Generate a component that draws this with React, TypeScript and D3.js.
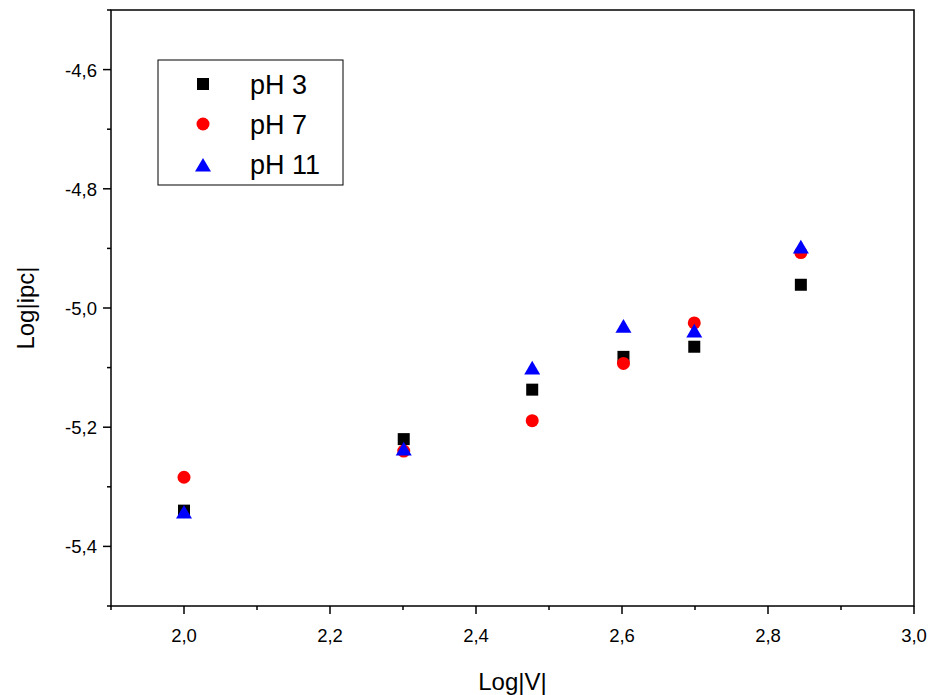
import React from 'react';
import * as d3 from 'd3';

const xs = [2.0, 2.301, 2.477, 2.602, 2.699, 2.845];
const ph3 = [-5.34, -5.22, -5.137, -5.082, -5.065, -4.961];
const ph7 = [-5.284, -5.24, -5.189, -5.093, -5.025, -4.907];
const ph11 = [-5.344, -5.238, -5.102, -5.032, -5.04, -4.899];
const xTicks = [2.0, 2.2, 2.4, 2.6, 2.8, 3.0];
const yTicks = [-5.4, -5.2, -5.0, -4.8, -4.6];

const W = 934, H = 695;
const L = 111, R = 914, T = 10, B = 606;

const App: React.FC = () => {
  const x = d3.scaleLinear().domain([1.9, 3.0]).range([L, R]);
  const y = d3.scaleLinear().domain([-5.5, -4.5]).range([B, T]);
  const fmt = (v: number) => v.toFixed(1).replace('.', ',');
  const xMinor = d3.range(19, 31).map(v => v / 10);
  const yMinor = d3.range(-55, -44).map(v => v / 10);
  const tri = (cx: number, cy: number, s = 8) =>
    `M${cx},${cy - s} L${cx + s},${cy + s * 0.7} L${cx - s},${cy + s * 0.7} Z`;
  const font = 'Arial, "Liberation Sans", sans-serif';
  return (
    <svg width={W} height={H} style={{ position: 'absolute', left: 0, top: 0, background: '#fff' }} fontFamily={font}>
      <rect x={L} y={T} width={R - L} height={B - T} fill="none" stroke="#000" strokeWidth={1.5} />
      {xMinor.map(v => (
        <line key={'xm' + v} x1={x(v)} x2={x(v)} y1={B} y2={B + (xTicks.some(t => Math.abs(t - v) < 1e-6) ? 8 : 4)} stroke="#000" strokeWidth={1.5} />
      ))}
      {xTicks.map(v => (
        <text key={'xt' + v} x={x(v)} y={B + 36} textAnchor="middle" fontSize={18.5}>{fmt(v)}</text>
      ))}
      {yMinor.map(v => (
        <line key={'ym' + v} x1={L} x2={L - (yTicks.some(t => Math.abs(t - v) < 1e-6) ? 8 : 4)} y1={y(v)} y2={y(v)} stroke="#000" strokeWidth={1.5} />
      ))}
      {yTicks.map(v => (
        <text key={'yt' + v} x={L - 14} y={y(v) + 7} textAnchor="end" fontSize={18.5}>{fmt(v)}</text>
      ))}
      <text x={(L + R) / 2} y={690} textAnchor="middle" fontSize={24}>Log|V|</text>
      <text transform={`translate(34,${(T + B) / 2}) rotate(-90)`} textAnchor="middle" fontSize={24}>Log|ipc|</text>
      {xs.map((v, i) => <rect key={'a' + i} x={x(v) - 6} y={y(ph3[i]) - 6} width={12} height={12} fill="#000" />)}
      {xs.map((v, i) => <circle key={'b' + i} cx={x(v)} cy={y(ph7[i])} r={6.5} fill="#ff0000" />)}
      {xs.map((v, i) => <path key={'c' + i} d={tri(x(v), y(ph11[i]))} fill="#0000ff" />)}
      <rect x={158} y={60} width={185} height={125} fill="#fff" stroke="#000" strokeWidth={1} />
      <rect x={197} y={78} width={12} height={12} fill="#000" />
      <text x={250} y={94} fontSize={27}>pH 3</text>
      <circle cx={203} cy={124} r={6.5} fill="#ff0000" />
      <text x={250} y={134} fontSize={27}>pH 7</text>
      <path d={tri(203, 166)} fill="#0000ff" />
      <text x={250} y={174} fontSize={27}>pH 11</text>
    </svg>
  );
};

export default App;
